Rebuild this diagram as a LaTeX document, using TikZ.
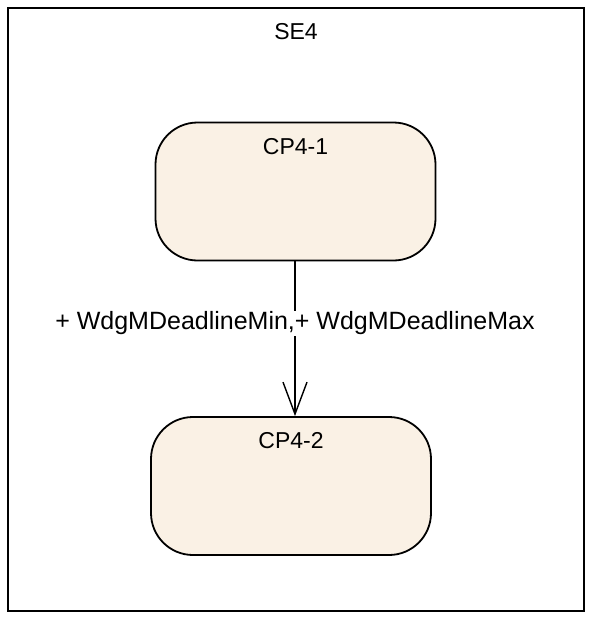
\documentclass[tikz,border=0pt]{standalone}
\usepackage{fontspec}
\setmainfont{Liberation Sans}
\usetikzlibrary{arrows.meta}
\definecolor{statefill}{RGB}{250,241,229}
\tikzset{
  statebox/.style={draw=black,line width=1.8pt,fill=statefill,rounded corners=42pt,
    minimum width=280pt,minimum height=138pt},
  statename/.style={font=\fontsize{23}{27}\selectfont,anchor=north,yshift=-13pt}
}
\begin{document}
\begin{tikzpicture}[x=1pt,y=-1pt]
\useasboundingbox (0,0) rectangle (589,618);
%\draw[step=50,gray,very thin] (0,0) grid (589,618); %background grid
\draw[line width=1.8pt](8,8) rectangle (584,611); %SE4 frame
\node[font=\fontsize{23}{27}\selectfont] (se) at (296,32){SE4};
\node[statebox,label={[statename,name=cpa]north:CP4-1}] (cp1) at (295.5,191.5){}; %CP4-1
\node[statebox,label={[statename,name=cpb]north:CP4-2}] (cp2) at (291,486){}; %CP4-2
\draw[line width=1.4pt,-{Straight Barb[length=32pt,width=24pt,line width=1.4pt]}](cp1.south -| 295,0) -- (cp2.north -| 295,0)
  node[pos=0.4,fill=white,inner sep=1pt,font=\fontsize{25}{29}\selectfont] (tr) {+ WdgMDeadlineMin,+ WdgMDeadlineMax};
\end{tikzpicture}
\end{document}
